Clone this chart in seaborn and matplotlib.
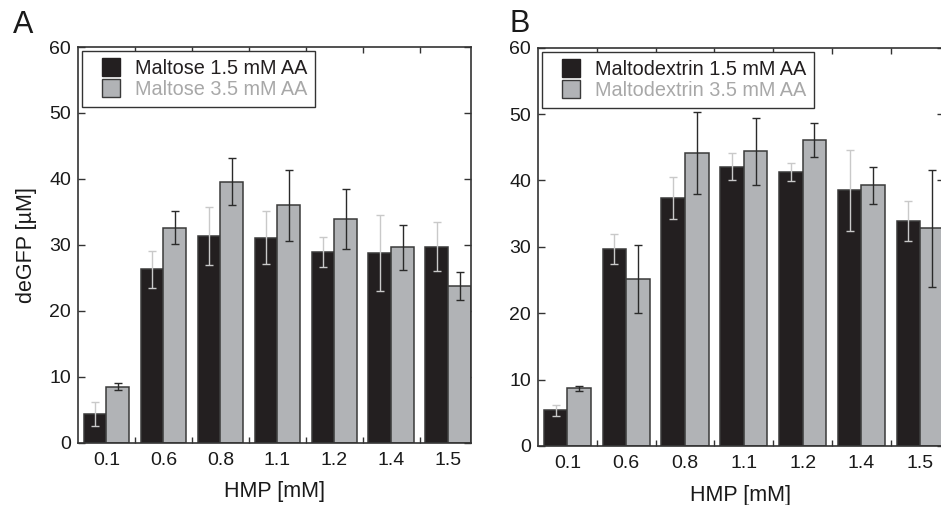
import numpy as np
import pandas as pd
import matplotlib
matplotlib.use("Agg")
import matplotlib.pyplot as plt
from matplotlib.lines import Line2D
from matplotlib.ticker import FixedLocator
import seaborn as sns

# ---------------- data ----------------
hmp = ["0.1", "0.6", "0.8", "1.1", "1.2", "1.4", "1.5"]

maltose_15 = [4.4, 26.3, 31.3, 31.1, 28.9, 28.8, 29.7]
maltose_15_err = [1.8, 2.8, 4.4, 4.0, 2.3, 5.8, 3.7]
maltose_35 = [8.5, 32.6, 39.6, 36.0, 33.9, 29.6, 23.8]
maltose_35_err = [0.5, 2.5, 3.55, 5.4, 4.55, 3.45, 2.1]

maltodextrin_15 = [5.4, 29.7, 37.3, 42.1, 41.3, 38.5, 33.9]
maltodextrin_15_err = [0.85, 2.25, 3.15, 2.05, 1.4, 6.1, 3.0]
maltodextrin_35 = [8.7, 25.2, 44.1, 44.4, 46.1, 39.3, 32.8]
maltodextrin_35_err = [0.4, 5.1, 6.15, 5.05, 2.6, 2.8, 8.8]

labels_A = ["Maltose 1.5 mM AA", "Maltose 3.5 mM AA"]
labels_B = ["Maltodextrin 1.5 mM AA", "Maltodextrin 3.5 mM AA"]

# ---------------- style ----------------
sns.set_theme(style="white")
plt.rcParams["font.family"] = ["Liberation Sans", "DejaVu Sans"]

BLACK = "#231f20"
GRAY = "#b1b3b6"
EDGE = "#3a3a3a"
ERR_ON_BLACK = "#c9c9c9"
ERR_ON_GRAY = "#2a2a2a"
LEG_GRAY_TXT = "#a8a8a8"
SPINE = "#333333"

fig = plt.figure(figsize=(9.41, 5.05), dpi=100)
W, H = 941, 505
axA = fig.add_axes([78 / W, (H - 442.7) / H, 393 / W, 395.7 / H])
axB = fig.add_axes([538 / W, (H - 446) / H, 405.7 / W, 398.3 / H])


def draw(ax, v1, e1, v2, e2, labels, ylabel):
    df = pd.DataFrame({
        "HMP": hmp * 2,
        "value": list(v1) + list(v2),
        "series": [labels[0]] * len(hmp) + [labels[1]] * len(hmp),
    })
    sns.barplot(data=df, x="HMP", y="value", hue="series", order=hmp,
                hue_order=labels, palette=[BLACK, GRAY], saturation=1,
                errorbar=None, width=0.8, edgecolor=EDGE, linewidth=1.1,
                legend=False, ax=ax)
    for cont, vals, errs, ecol in zip(ax.containers[:2], [v1, v2], [e1, e2],
                                       [ERR_ON_BLACK, ERR_ON_GRAY]):
        xs = [p.get_x() + p.get_width() / 2 for p in cont.patches]
        ax.errorbar(xs, vals, yerr=errs, fmt="none", ecolor=ecol,
                    elinewidth=1.0, capsize=3.2, capthick=1.0, zorder=5)

    ax.set_xlim(-0.5, 6.4)
    ax.set_ylim(0, 60)
    ax.set_yticks(np.arange(0, 61, 10))
    ax.xaxis.set_minor_locator(FixedLocator(np.arange(0.5, 6.0, 1.0)))
    ax.tick_params(axis="x", which="major", length=0, pad=6.5,
                   labelsize=14, colors="#1a1a1a")
    ax.tick_params(axis="x", which="minor", direction="in", length=4.5,
                   width=1.0, color=SPINE, top=True, bottom=True)
    ax.tick_params(axis="y", which="major", direction="in", length=5,
                   width=1.0, color=SPINE, left=True, right=True,
                   labelsize=14, labelcolor="#1a1a1a", pad=5)
    for s in ax.spines.values():
        s.set_visible(True)
        s.set_color(SPINE)
        s.set_linewidth(1.2)
    ax.set_xlabel("HMP [mM]", fontsize=15.5, color="#1a1a1a", labelpad=9)
    if ylabel:
        ax.set_ylabel(ylabel, fontsize=15.5, color="#1a1a1a", labelpad=9)
    else:
        ax.set_ylabel("")

    handles = [
        Line2D([], [], linestyle="none", marker="s", markersize=13,
               markerfacecolor=BLACK, markeredgecolor=BLACK,
               markeredgewidth=1.0),
        Line2D([], [], linestyle="none", marker="s", markersize=13,
               markerfacecolor=GRAY, markeredgecolor=EDGE,
               markeredgewidth=1.0),
    ]
    leg = ax.legend(handles, labels, loc="upper left",
                    bbox_to_anchor=(0, 1), borderaxespad=0.2,
                    fontsize=14.3, handlelength=2.1, handletextpad=0.15,
                    labelspacing=0.12, borderpad=0.4, fancybox=False,
                    framealpha=1, edgecolor=SPINE)
    leg.get_frame().set_linewidth(1.0)
    leg.get_texts()[0].set_color(BLACK)
    leg.get_texts()[1].set_color(LEG_GRAY_TXT)


draw(axA, maltose_15, maltose_15_err, maltose_35, maltose_35_err,
     labels_A, "deGFP [µM]")
draw(axB, maltodextrin_15, maltodextrin_15_err, maltodextrin_35,
     maltodextrin_35_err, labels_B, None)

fig.text(12.5 / W, 1 - 33.3 / H, "A", fontsize=22, va="baseline",
         ha="left", color="#1a1a1a")
fig.text(509 / W, 1 - 32.3 / H, "B", fontsize=22, va="baseline",
         ha="left", color="#1a1a1a")

fig.savefig("out.png", dpi=100)
